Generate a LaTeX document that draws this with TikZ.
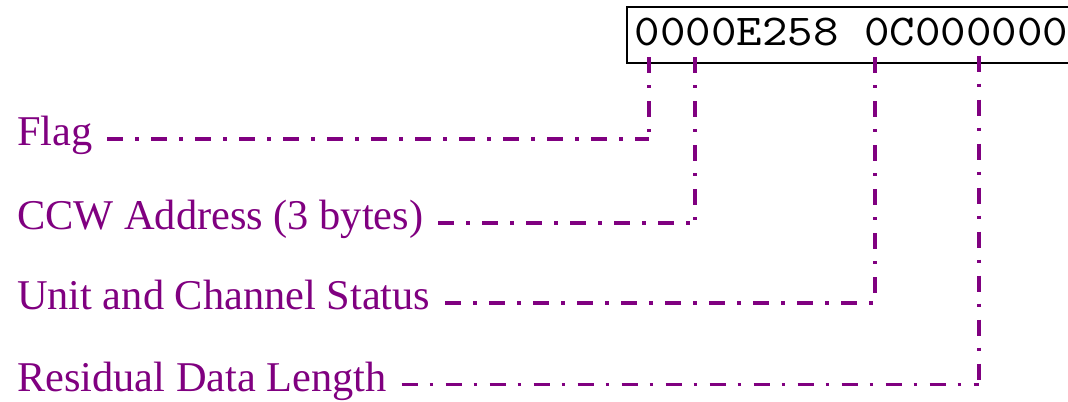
\documentclass[tikz,border=0pt]{standalone}
\usepackage{fontspec}
\setmainfont{Liberation Serif}
\newfontfamily\regfont{lmmono10-regular.otf}[FakeStretch=1.10]
\definecolor{fieldpurple}{HTML}{800080}
\begin{document}
\begin{tikzpicture}[x=0.75pt, y=-0.75pt,
  lbl/.style={anchor=west, inner sep=0pt, outer sep=0pt,
    text height=24pt, text depth=14.2pt, text=fieldpurple,
    font=\fontsize{31.8pt}{36pt}\selectfont},
  regbox/.style={draw=black, line width=1.5pt, anchor=north west,
    inner sep=0pt, outer sep=0pt,
    minimum width=339.75pt, minimum height=41.8pt},
  regtext/.style={anchor=base west, inner sep=0pt,
    font=\regfont\fontsize{33.1pt}{36pt}\selectfont},
  conn/.style={draw=fieldpurple, line width=2.7pt,
    dash pattern=on 12pt off 9pt on 2.6pt off 9.4pt},
  ]
\useasboundingbox (0,0) rectangle (1068,401);

% register contents
\node[regbox] (reg) at (627,7.3) {};
\node[regtext] (val) at (634.5,45.7) {0000E258 0C000000};

% field labels
\node[lbl] (flag)  at (17,138.7) {Flag};
\node[lbl] (ccw)   at (17,222.8) {CCW Address (3 bytes)};
\node[lbl] (unit)  at (17,302.8) {Unit and Channel Status};
\node[lbl] (resid) at (17,384.5) {Residual Data Length};

% leader tops, just inside the register box
\coordinate (t1) at (649,57);
\coordinate (t2) at (695,57);
\coordinate (t3) at (875,57);
\coordinate (t4) at (979,55.5);

% leaders: down from the digit, across to the label
\foreach \lab/\t in {flag/t1, ccw/t2, unit/t3, resid/t4} {
  \draw[conn] (\t) -- (\t |- \lab.east);
  \draw[conn, shorten <=11.25pt] (\lab.east) -- (\t |- \lab.east);
}
\end{tikzpicture}
\end{document}
